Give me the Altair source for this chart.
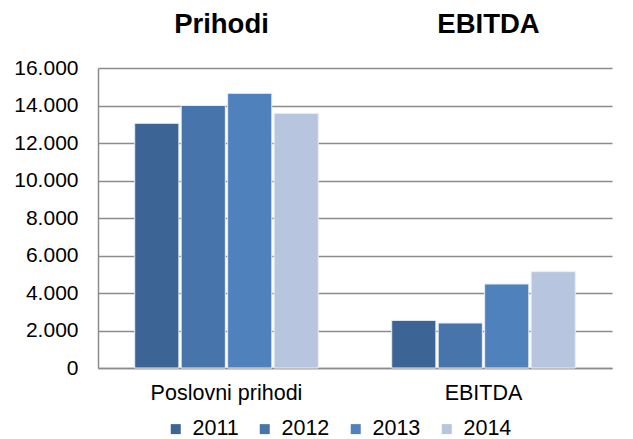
import altair as alt
import pandas as pd

categories = ["Poslovni prihodi", "EBITDA"]
years = ["2011", "2012", "2013", "2014"]
poslovni_prihodi = [13050, 14000, 14650, 13580]
ebitda = [2540, 2400, 4480, 5140]
panel_titles = ["Prihodi", "EBITDA"]
colors = ["#3C6595", "#4674AB", "#4F81BD", "#B7C5DF"]

rows = []
for cat, vals in zip(categories, [poslovni_prihodi, ebitda]):
    for yr, v in zip(years, vals):
        rows.append({"cat": cat, "year": yr, "value": v})
df = pd.DataFrame(rows)
tdf = pd.DataFrame({"cat": categories, "title": panel_titles})

FONT = "Liberation Sans"
GRID = "#8c8c8c"

xscale = alt.Scale(domain=categories, paddingInner=0, paddingOuter=0)

bars = alt.Chart(df).mark_bar(stroke="#e8edf5", strokeWidth=1).encode(
    x=alt.X("cat:N", scale=xscale, sort=categories,
            axis=alt.Axis(title=None, labelAngle=0, ticks=False, grid=False,
                          domainColor=GRID, domainWidth=1.5, labelFontSize=21.5,
                          labelPadding=14, labelColor="black", labelFont=FONT)),
    xOffset=alt.XOffset("year:N", sort=years,
                        scale=alt.Scale(paddingInner=0.05, paddingOuter=0.79)),
    y=alt.Y("value:Q", scale=alt.Scale(domain=[0, 16000], nice=False),
            axis=alt.Axis(title=None, values=list(range(0, 16001, 2000)), ticks=False,
                          domainColor=GRID, domainWidth=1.5, gridColor=GRID, gridWidth=1.5,
                          labelFontSize=21, labelPadding=20, labelColor="black", labelFont=FONT,
                          labelExpr="replace(format(datum.value, ','), ',', '.')")),
    color=alt.Color("year:N", sort=years, scale=alt.Scale(domain=years, range=colors),
                    legend=alt.Legend(orient="none", legendX=67, legendY=350,
                                      direction="horizontal", title=None,
                                      symbolType="square", symbolSize=100,
                                      symbolStrokeWidth=0, labelFontSize=21.5,
                                      labelFont=FONT, labelColor="black",
                                      columnPadding=15, labelOffset=6)),
)

title_left = alt.Chart(tdf).transform_filter(alt.datum.cat == categories[0]).mark_text(
    fontSize=27.5, fontWeight="bold", font=FONT, baseline="alphabetic", color="black", dx=-5
).encode(x=alt.X("cat:N", sort=categories), y=alt.value(-35), text="title:N")

title_right = alt.Chart(tdf).transform_filter(alt.datum.cat == categories[1]).mark_text(
    fontSize=27.5, fontWeight="bold", font=FONT, baseline="alphabetic", color="black", dx=5
).encode(x=alt.X("cat:N", sort=categories), y=alt.value(-35), text="title:N")

chart = alt.layer(bars, title_left, title_right).properties(
    width=514, height=300,
    autosize=alt.AutoSizeParams(type="none"),
    padding={"left": 90, "top": 60, "right": 13, "bottom": 71},
).configure_view(stroke=None)

chart.save("out.html", embed_options={"renderer": "svg", "actions": False})
